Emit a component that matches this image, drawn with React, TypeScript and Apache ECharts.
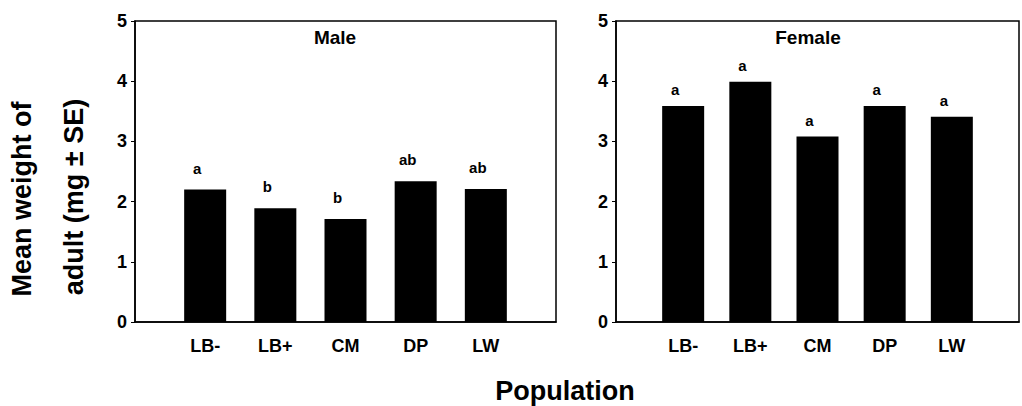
import React, { useEffect, useRef } from "react";
import * as echarts from "echarts";

const categories = ["", "LB-", "LB+", "CM", "DP", "LW", ""];
const maleValues = [2.2, 1.89, 1.71, 2.34, 2.21];
const femaleValues = [3.59, 3.99, 3.08, 3.59, 3.41];
const maleLetters = ["a", "b", "b", "ab", "ab"];
const femaleLetters = ["a", "a", "a", "a", "a"];
const yTicks = [0, 1, 2, 3, 4, 5];

const FONT = "'Liberation Sans', Arial, Helvetica, sans-serif";

function pad(vals: number[]) {
  return ["-", ...vals, "-"];
}

export default function App() {
  const ref = useRef<HTMLDivElement>(null);
  useEffect(() => {
    if (!ref.current) return;
    const chart = echarts.init(ref.current, undefined, { renderer: "svg" });
    const grids = [
      { left: 135, top: 21, width: 421, height: 301 },
      { left: 616, top: 21, width: 421, height: 301 },
    ];
    const xAxis = grids.map((_, i) => ({
      type: "category",
      gridIndex: i,
      data: categories,
      boundaryGap: false,
      axisLine: { show: true, lineStyle: { color: "#000", width: 1.5 } },
      axisTick: { show: false },
      axisLabel: {
        interval: 0,
        margin: 15,
        color: "#000",
        fontFamily: FONT,
        fontWeight: "bold",
        fontSize: 18,
      },
      splitLine: { show: false },
    }));
    const yAxis = grids.map((_, i) => ({
      type: "value",
      gridIndex: i,
      min: yTicks[0],
      max: yTicks[yTicks.length - 1],
      interval: 1,
      axisLine: { show: true, lineStyle: { color: "#000", width: 1.5 } },
      axisTick: { show: true, length: 4, inside: false, lineStyle: { color: "#000", width: 1 } },
      axisLabel: {
        margin: 8,
        color: "#000",
        fontFamily: FONT,
        fontWeight: "bold",
        fontSize: 18,
      },
      splitLine: { show: false },
    }));
    const makeSeries = (i: number, vals: number[], letters: string[], dist: number) => ({
      type: "bar",
      xAxisIndex: i,
      yAxisIndex: i,
      data: pad(vals),
      barWidth: 42,
      itemStyle: { color: "#000" },
      label: {
        show: true,
        position: "top",
        distance: dist,
        offset: [-8, 0],
        color: "#000",
        fontFamily: FONT,
        fontWeight: "bold",
        fontSize: 15,
        formatter: (p: any) => letters[p.dataIndex - 1] ?? "",
      },
    });
    chart.setOption({
      animation: false,
      backgroundColor: "#fff",
      grid: grids.map((g) => ({ ...g, show: true, borderColor: "#000", borderWidth: 1.5, backgroundColor: "transparent" })),
      xAxis,
      yAxis,
      series: [makeSeries(0, maleValues, maleLetters, 14), makeSeries(1, femaleValues, femaleLetters, 9)],
      graphic: [
        {
          type: "text",
          x: 335,
          y: 37,
          style: { text: "Male", fill: "#000", font: `bold 19px ${FONT}`, textAlign: "center", textVerticalAlign: "middle" },
        },
        {
          type: "text",
          x: 808,
          y: 37,
          style: { text: "Female", fill: "#000", font: `bold 19px ${FONT}`, textAlign: "center", textVerticalAlign: "middle" },
        },
        {
          type: "text",
          x: 565,
          y: 391,
          style: { text: "Population", fill: "#000", font: `bold 27px ${FONT}`, textAlign: "center", textVerticalAlign: "middle" },
        },
        {
          type: "text",
          x: 22,
          y: 199,
          rotation: Math.PI / 2,
          style: { text: "Mean weight of", fill: "#000", font: `bold 27px ${FONT}`, textAlign: "center", textVerticalAlign: "middle" },
        },
        {
          type: "text",
          x: 74,
          y: 197,
          rotation: Math.PI / 2,
          style: { text: "adult (mg ± SE)", fill: "#000", font: `bold 27px ${FONT}`, textAlign: "center", textVerticalAlign: "middle" },
        },
      ],
    });
    return () => chart.dispose();
  }, []);
  return (
    <div
      ref={ref}
      style={{ position: "absolute", left: 0, top: 0, width: 1022, height: 406, overflow: "hidden" }}
    />
  );
}
